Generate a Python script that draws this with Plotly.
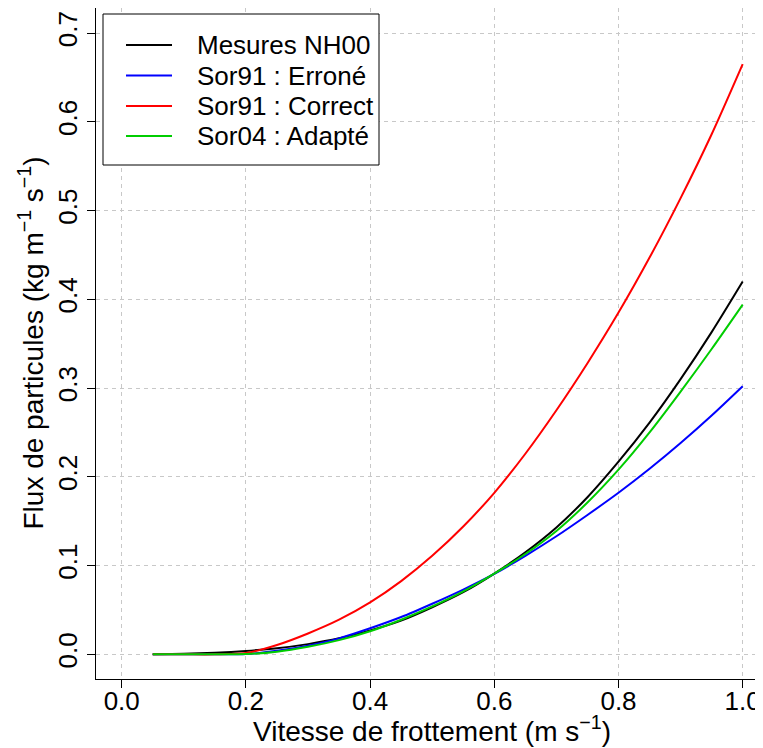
import plotly.graph_objects as go

# ---- data ----
u_star = [0.05, 0.10, 0.15, 0.20, 0.25, 0.30, 0.35, 0.40, 0.45, 0.50,
          0.55, 0.60, 0.65, 0.70, 0.75, 0.80, 0.85, 0.90, 0.95, 1.00]

mesures_nh00 = [0.0001, 0.0006, 0.0018, 0.0038, 0.0068, 0.0115, 0.018, 0.027, 0.038, 0.053,
                0.070, 0.091, 0.115, 0.143, 0.177, 0.217, 0.261, 0.310, 0.363, 0.420]
sor91_errone = [0.0, 0.0, 0.0, 0.0003, 0.004, 0.0098, 0.018, 0.0293, 0.042, 0.057,
                0.073, 0.0906, 0.111, 0.133, 0.157, 0.182, 0.209, 0.238, 0.269, 0.302]
sor91_correct = [0.0, 0.0, 0.0, 0.0015, 0.0105, 0.0235, 0.039, 0.0585, 0.0825, 0.111,
                 0.144, 0.182, 0.226, 0.275, 0.328, 0.385, 0.447, 0.514, 0.586, 0.665]
sor04_adapte = [0.0, 0.0, 0.0, 0.0003, 0.003, 0.0085, 0.016, 0.026, 0.039, 0.054,
                0.071, 0.091, 0.113, 0.139, 0.171, 0.208, 0.250, 0.296, 0.344, 0.394]

series_names = ["Mesures NH00", "Sor91 : Erroné", "Sor91 : Correct", "Sor04 : Adapté"]
series_values = [mesures_nh00, sor91_errone, sor91_correct, sor04_adapte]
series_colors = ["#000000", "#0000FF", "#FF0000", "#00CD00"]

x_ticks = [0.0, 0.2, 0.4, 0.6, 0.8, 1.0]
y_ticks = [0.0, 0.1, 0.2, 0.3, 0.4, 0.5, 0.6, 0.7]

FONT = "Liberation Sans, Arial, Helvetica, sans-serif"
FS = 26
FS_TITLE = 28

# page body has an 8px margin: figure is drawn from screen (8, 8)
OFF = 8
W, H = 763 - OFF, 748 - OFF
# plot rectangle in screen pixels
SL, SR, ST, SB = 96, 763, 8, 679
ML, MR, MT, MB = SL - OFF, 0, ST - OFF, H - (SB - OFF)
PW, PH = SR - SL, SB - ST


def xp(sx):
    return (sx - SL) / PW


def yp(sy):
    return (SB - sy) / PH


fig = go.Figure()
for name, vals, col in zip(series_names, series_values, series_colors):
    fig.add_trace(go.Scatter(x=u_star, y=vals, mode="lines", name=name,
                             line=dict(color=col, width=2, shape="spline", smoothing=0.8),
                             showlegend=False))

axis_common = dict(
    showline=True, linecolor="#000000", linewidth=1,
    ticks="outside", ticklen=8, tickwidth=1, tickcolor="#000000",
    showgrid=True, gridcolor="#C8C8C8", gridwidth=1, griddash="4px,4px",
    zeroline=False, tickformat=".1f",
    tickfont=dict(family=FONT, size=FS, color="#000000"),
)

fig.update_layout(
    width=W, height=H,
    margin=dict(l=ML, r=MR, t=MT, b=MB, pad=0),
    paper_bgcolor="white", plot_bgcolor="white",
    font=dict(family=FONT, size=FS, color="#000000"),
    xaxis=dict(range=[-0.0414, 1.0327], tickvals=x_ticks, mirror=True,
               ticklabelstandoff=-9, **axis_common),
    yaxis=dict(range=[-0.0278, 0.7282], tickvals=y_ticks, tickangle=-90, mirror=False,
               **axis_common),
    showlegend=False,
)

# axis titles
fig.add_annotation(xref="paper", yref="paper", x=xp(431.5), y=yp(729),
                   text="Vitesse de frottement (m s<sup>\u22121</sup>)", showarrow=False,
                   xanchor="center", yanchor="middle", font=dict(family=FONT, size=FS_TITLE))
fig.add_annotation(xref="paper", yref="paper", x=xp(31), y=0.5,
                   text="Flux de particules (kg m<sup>\u22121</sup> s<sup>\u22121</sup>)", showarrow=False,
                   textangle=-90, xanchor="center", yanchor="middle", font=dict(family=FONT, size=FS_TITLE))

# legend box
fig.add_shape(type="rect", xref="paper", yref="paper", x0=xp(103), x1=xp(379), y0=yp(165), y1=yp(14),
              line=dict(color="#000000", width=1), fillcolor="white", layer="above")
rows = [45, 75.5, 106, 136]
for name, col, ry in zip(series_names, series_colors, rows):
    fig.add_shape(type="line", xref="paper", yref="paper", x0=xp(126), x1=xp(172), y0=yp(ry), y1=yp(ry),
                  line=dict(color=col, width=2), layer="above")
    fig.add_annotation(xref="paper", yref="paper", x=xp(195), y=yp(ry), text=name, showarrow=False,
                       xanchor="left", yanchor="middle", font=dict(family=FONT, size=FS))

fig.write_html("out.html", config={"displayModeBar": False})
